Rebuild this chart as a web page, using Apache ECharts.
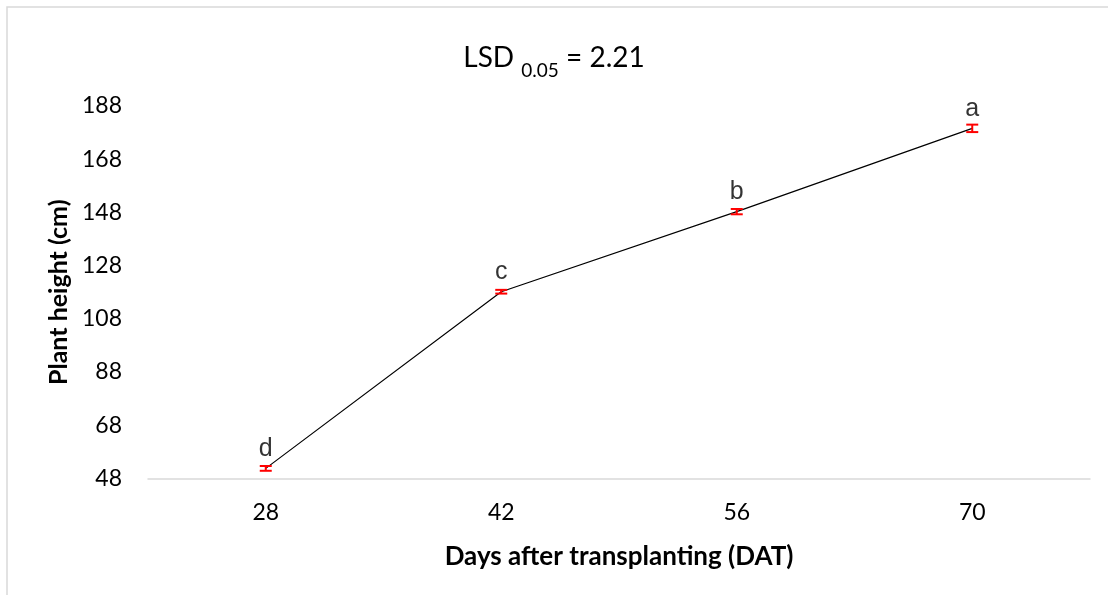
<!DOCTYPE html>
<html>
<head>
<meta charset="utf-8">
<script src="https://cdn.jsdelivr.net/npm/echarts@6/dist/echarts.min.js"></script>
<style>html,body{margin:0;padding:0;background:#fff}#c{width:1108px;height:595px}</style>
</head>
<body>
<div id="c"></div>
<script>
var categories = ['28', '42', '56', '70'];
var heights = [51.8, 118.2, 148.3, 179.6];
var errors = [0.9, 0.7, 1.0, 1.4];
var letters = ['d', 'c', 'b', 'a'];
var yTicks = [48, 68, 88, 108, 128, 148, 168, 188];

var chart = echarts.init(document.getElementById('c'));
var fontMain = 'Lato, Open Sans, sans-serif';
chart.setOption({
  animation: false,
  backgroundColor: '#fff',
  title: {
    text: '{m|LSD }{s|0.05}{m| = 2.21}',
    left: 'center',
    top: 31,
    textStyle: {
      fontWeight: 'normal',
      rich: {
        m: { fontSize: 28, fontFamily: fontMain, fontWeight: 'normal', color: '#000', verticalAlign: 'bottom', lineHeight: 36 },
        s: { fontSize: 19, fontFamily: fontMain, fontWeight: 'normal', color: '#000', verticalAlign: 'bottom', lineHeight: 24, padding: [0, 0, -8, 0] }
      }
    }
  },
  graphic: [
    { type: 'polyline', shape: { points: [[7, 595], [7, 7], [1108, 7]] }, style: { stroke: '#d9d9d9', lineWidth: 1.5, fill: null }, silent: true }
  ],
  grid: { left: 148, right: 18, top: 106, bottom: 116.5, containLabel: false },
  xAxis: {
    type: 'category',
    data: categories,
    boundaryGap: true,
    axisLine: { lineStyle: { color: '#d9d9d9', width: 1.5 } },
    axisTick: { show: false },
    axisLabel: { color: '#000', fontSize: 23, fontFamily: fontMain, margin: 23 },
    name: 'Days after transplanting (DAT)',
    nameLocation: 'middle',
    nameGap: 65,
    nameTextStyle: { color: '#000', fontSize: 26, fontWeight: 'bold', fontFamily: fontMain }
  },
  yAxis: {
    type: 'value',
    min: yTicks[0],
    max: yTicks[yTicks.length - 1],
    interval: 20,
    splitLine: { show: false },
    axisLine: { show: false },
    axisTick: { show: false },
    axisLabel: { color: '#000', fontSize: 23, fontFamily: fontMain, margin: 26 },
    name: 'Plant height (cm)',
    nameLocation: 'middle',
    nameGap: 75,
    nameTextStyle: { color: '#000', fontSize: 25, fontWeight: 'bold', fontFamily: fontMain }
  },
  series: [
    {
      type: 'line',
      data: heights,
      symbol: 'none',
      lineStyle: { color: '#000', width: 1.2 },
      z: 2
    },
    {
      type: 'custom',
      data: heights.map(function (h, i) { return [i, h, errors[i]]; }),
      renderItem: function (params, api) {
        var x = api.value(0), y = api.value(1), e = api.value(2);
        var hi = api.coord([x, y + e]);
        var lo = api.coord([x, y - e]);
        var w = 6;
        var st = { stroke: '#ff0000', lineWidth: 2 };
        return {
          type: 'group',
          children: [
            { type: 'line', shape: { x1: hi[0], y1: hi[1], x2: lo[0], y2: lo[1] }, style: st },
            { type: 'line', shape: { x1: hi[0] - w, y1: hi[1], x2: hi[0] + w, y2: hi[1] }, style: st },
            { type: 'line', shape: { x1: lo[0] - w, y1: lo[1], x2: lo[0] + w, y2: lo[1] }, style: st }
          ]
        };
      },
      z: 3
    },
    {
      type: 'scatter',
      data: heights.map(function (h, i) { return { value: [i, h], label: { formatter: letters[i] } }; }),
      symbolSize: 0,
      label: {
        show: true,
        position: 'top',
        distance: 7,
        color: '#000',
        fontSize: 25,
        fontFamily: 'Liberation Sans, Arial, sans-serif'
      },
      z: 4
    }
  ]
});
</script>
</body>
</html>
